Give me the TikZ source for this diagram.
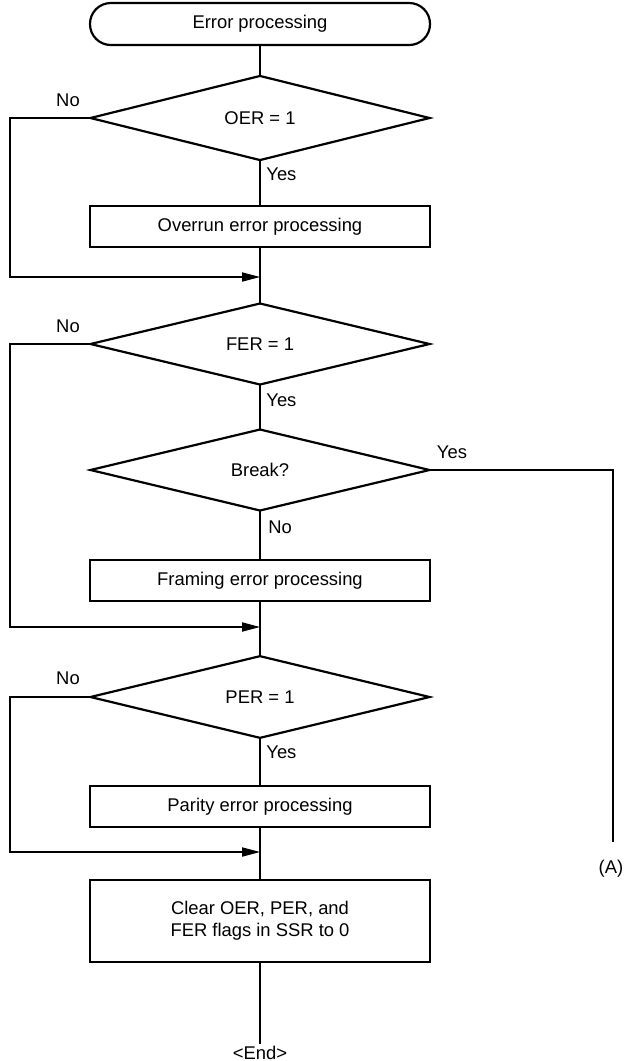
\documentclass[tikz,border=0pt]{standalone}
\usepackage{fontspec}
\setmainfont{Liberation Sans}
\usetikzlibrary{shapes.geometric, arrows.meta}

\begin{document}
\begin{tikzpicture}[x=0.5pt, y=-0.5pt, font=\fontsize{9.2}{11}\selectfont,
  term/.style={draw, line width=1.1pt, rounded corners=10.4pt, minimum width=170pt, minimum height=21pt, inner sep=0pt, outer sep=0pt},
  proc/.style={draw, line width=1.1pt, minimum width=170pt, minimum height=20.5pt, align=center, inner sep=0pt, outer sep=0pt},
  decision/.style={draw, diamond, line width=1.1pt, minimum width=169.5pt, minimum height=40.5pt, inner sep=0pt, outer sep=0pt},
  flow/.style={line width=0.6pt},
  arr/.style={flow, -{Triangle[length=9pt, width=4.6pt]}}]
\useasboundingbox (0,0) rectangle (627,1061);
\coordinate (lx) at (10,0);
\coordinate (rx) at (613,0);
\node[term] (start) at (260,24) {Error processing};
\node[decision] (oer) at (260,118) {OER = 1};
\node[proc] (ovr) at (260,226.5) {Overrun error processing};
\coordinate (j1) at (260,277);
\node[decision] (fer) at (260,344) {FER = 1};
\node[decision] (brk) at (260,470) {Break?};
\node[proc] (frm) at (260,580.5) {Framing error processing};
\coordinate (j2) at (260,627);
\node[decision] (per) at (260,697) {PER = 1};
\node[proc] (par) at (260,806.5) {Parity error processing};
\coordinate (j3) at (260,852);
\node[proc, minimum height=41pt] (clr) at (260,921) {Clear OER, PER, and\\FER flags in SSR to 0};
\node[inner sep=1pt] (end) at (260,1053) {<End>};
\coordinate (aend) at (613,842);
\node (alabel) at (611,869) {(A)};
% labels
\node (no1) at (68,100) {No};
\node[anchor=west, inner sep=0pt] (yes1) at (266,174) {Yes};
\node (no2) at (68,326) {No};
\node[anchor=west, inner sep=0pt] (yes2) at (266,400) {Yes};
\node (yes3) at (452,452) {Yes};
\node[anchor=west, inner sep=0pt] (no3) at (268,527) {No};
\node (no4) at (68,678) {No};
\node[anchor=west, inner sep=0pt] (yes4) at (266,752) {Yes};
% main line
\draw[flow] (start) -- (oer) -- (ovr) -- (fer) -- (brk) -- (frm) -- (per) -- (par) -- (clr) -- (end);
% skip paths
\draw[arr] (oer.west) -- (oer.west -| lx) |- (j1);
\draw[arr] (fer.west) -- (fer.west -| lx) |- (j2);
\draw[arr] (per.west) -- (per.west -| lx) |- (j3);
\draw[flow] (brk.east) -- (brk.east -| rx) -- (aend);
\end{tikzpicture}
\end{document}
